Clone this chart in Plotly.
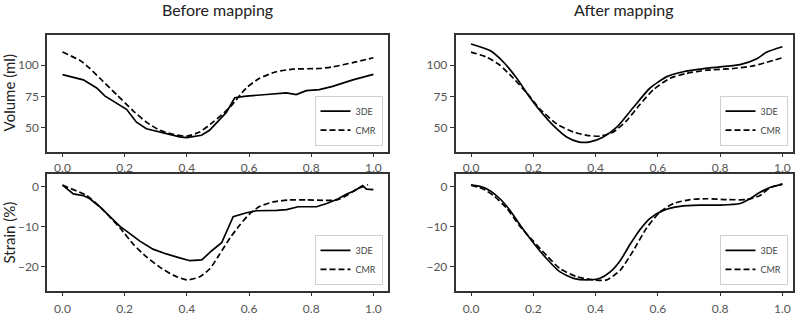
import plotly.graph_objects as go

# ---------------- data ----------------
x_tick_vals = [0.0, 0.2, 0.4, 0.6, 0.8, 1.0]
x_tick_labels = ["0.0", "0.2", "0.4", "0.6", "0.8", "1.0"]
vol_tick_vals = [50, 75, 100]
strain_tick_vals = [-20, -10, 0]

panel_titles = ["Before mapping", "After mapping"]
row_titles = ["Volume (ml)", "Strain (%)"]
series_names = ["3DE", "CMR"]

before_vol_3de_x = [0.0, 0.067, 0.11, 0.136, 0.206, 0.238, 0.27, 0.313, 0.377, 0.4, 0.447,
                    0.473, 0.527, 0.554, 0.591, 0.656, 0.72, 0.752, 0.784, 0.826, 0.869, 0.934, 1.0]
before_vol_3de_y = [92.5, 88.3, 81.8, 75.5, 64.8, 54.5, 49.2, 46.6, 42.7, 42.2, 44.0,
                    48.0, 62.3, 74.0, 75.3, 76.6, 77.9, 76.6, 79.7, 80.5, 83.1, 88.3, 92.7]

before_vol_cmr_x = [0.0, 0.056, 0.088, 0.131, 0.174, 0.227, 0.27, 0.313, 0.356, 0.4, 0.441,
                    0.484, 0.538, 0.591, 0.634, 0.688, 0.741, 0.826, 0.869, 0.934, 1.0]
before_vol_cmr_y = [110.5, 103.9, 97.4, 87.0, 76.6, 63.6, 54.5, 48.0, 44.8, 43.3, 46.6,
                    54.5, 66.2, 81.8, 89.6, 94.8, 96.9, 97.4, 98.7, 102.1, 106.0]

after_vol_3de_x = [0.0, 0.061, 0.104, 0.147, 0.179, 0.222, 0.264, 0.307, 0.345, 0.382, 0.425,
                   0.468, 0.521, 0.575, 0.629, 0.682, 0.736, 0.8, 0.864, 0.918, 0.95, 1.0]
after_vol_3de_y = [117.0, 111.7, 102.6, 89.6, 77.9, 63.6, 51.9, 42.7, 38.8, 38.8, 42.7,
                   50.5, 66.2, 81.8, 90.9, 94.8, 96.9, 98.7, 100.5, 105.2, 110.5, 114.8]

after_vol_cmr_x = [0.0, 0.05, 0.093, 0.136, 0.179, 0.222, 0.275, 0.329, 0.372, 0.414, 0.457,
                   0.5, 0.543, 0.586, 0.639, 0.693, 0.757, 0.843, 0.907, 1.0]
after_vol_cmr_y = [110.5, 106.5, 100.0, 89.6, 77.9, 64.8, 53.1, 46.6, 44.0, 43.3, 46.6,
                   55.8, 68.8, 80.5, 89.6, 93.5, 96.1, 97.4, 99.5, 106.0]

before_str_3de_x = [0.0, 0.035, 0.067, 0.088, 0.12, 0.152, 0.185, 0.206, 0.249, 0.291, 0.334,
                    0.377, 0.41, 0.448, 0.48, 0.512, 0.549, 0.592, 0.624, 0.689, 0.721, 0.758,
                    0.817, 0.85, 0.887, 0.914, 0.94, 0.965, 0.978, 1.0]
before_str_3de_y = [0.4, -1.8, -2.2, -3.0, -5.0, -7.5, -9.9, -11.1, -13.6, -15.6, -16.8,
                    -17.8, -18.5, -18.3, -16.0, -14.0, -7.5, -6.5, -6.0, -5.9, -5.7, -5.0,
                    -5.0, -4.2, -3.0, -1.8, -1.0, 0.3, -0.6, -0.7]

before_str_cmr_x = [0.0, 0.056, 0.078, 0.12, 0.185, 0.228, 0.271, 0.313, 0.356, 0.4, 0.442,
                    0.474, 0.506, 0.539, 0.571, 0.603, 0.635, 0.678, 0.731, 0.785, 0.839,
                    0.882, 0.914, 0.946, 0.983]
before_str_cmr_y = [0.4, -1.4, -2.2, -5.0, -10.3, -14.4, -17.6, -20.1, -22.1, -23.3, -22.5,
                    -20.5, -16.8, -12.8, -9.5, -6.7, -4.9, -3.8, -3.3, -3.3, -3.4,
                    -3.3, -2.2, -0.6, 0.5]

after_str_3de_x = [0.0, 0.029, 0.061, 0.093, 0.125, 0.157, 0.2, 0.243, 0.286, 0.329, 0.372,
                   0.414, 0.447, 0.479, 0.511, 0.543, 0.575, 0.618, 0.671, 0.736, 0.8,
                   0.864, 0.896, 0.928, 0.96, 1.0]
after_str_3de_y = [0.4, 0.1, -1.0, -3.0, -5.9, -9.5, -14.0, -18.0, -21.3, -22.9, -23.3,
                   -22.9, -21.3, -18.5, -14.4, -10.7, -7.9, -5.9, -4.9, -4.6, -4.6,
                   -4.2, -3.0, -1.4, -0.2, 0.65]

after_str_cmr_x = [0.0, 0.04, 0.072, 0.115, 0.157, 0.2, 0.243, 0.286, 0.34, 0.393, 0.436,
                   0.479, 0.521, 0.564, 0.607, 0.65, 0.704, 0.757, 0.821, 0.886, 0.928, 0.96, 1.0]
after_str_cmr_y = [0.4, -0.6, -2.2, -5.4, -9.9, -13.6, -17.2, -20.5, -22.5, -23.3, -23.3,
                   -20.9, -16.0, -10.3, -6.3, -4.2, -3.2, -3.0, -3.2, -3.2, -2.2, -0.2, 0.65]

# ---------------- layout constants ----------------
W, H = 799, 316
FONT = "Lato, 'Open Sans', sans-serif"
FRAME = "#333333"
TICKC = "#555555"

# pixel frames (left, right, top, bottom)
frames = {
    1: (47, 388, 36, 155),
    2: (455.5, 793, 36, 155),
    3: (47, 388, 178.3, 297.3),
    4: (455.5, 793, 178.3, 297.3),
}
xranges = {1: [-0.0498, 1.047], 2: [-0.0498, 1.034], 3: [-0.0498, 1.047], 4: [-0.0498, 1.034]}
yranges = {1: [31, 124], 2: [31, 124], 3: [-26, 3.1], 4: [-26, 3.1]}
yticks = {1: vol_tick_vals, 2: vol_tick_vals, 3: strain_tick_vals, 4: strain_tick_vals}
xstandoff = {1: 0, 2: 0, 3: 2, 4: 2}

curves = {
    1: (before_vol_3de_x, before_vol_3de_y, before_vol_cmr_x, before_vol_cmr_y, "linear"),
    2: (after_vol_3de_x, after_vol_3de_y, after_vol_cmr_x, after_vol_cmr_y, "spline"),
    3: (before_str_3de_x, before_str_3de_y, before_str_cmr_x, before_str_cmr_y, "linear"),
    4: (after_str_3de_x, after_str_3de_y, after_str_cmr_x, after_str_cmr_y, "spline"),
}

fig = go.Figure()
layout = dict(
    width=W, height=H,
    margin=dict(l=0, r=0, t=0, b=0),
    paper_bgcolor="white", plot_bgcolor="white",
    font=dict(family=FONT, color=TICKC, size=12),
    annotations=[],
)

for i in range(1, 5):
    l, r, t, b = frames[i]
    sfx = "" if i == 1 else str(i)
    xa, ya = "x" + sfx, "y" + sfx
    leg = "legend" + sfx
    x3, y3, xc, yc, shape = curves[i]
    fig.add_trace(go.Scatter(
        x=x3, y=y3, mode="lines", name=series_names[0], xaxis=xa, yaxis=ya, legend=leg,
        line=dict(color="black", width=1.7, shape=shape, smoothing=0.6 if shape == "spline" else None),
    ))
    fig.add_trace(go.Scatter(
        x=xc, y=yc, mode="lines", name=series_names[1], xaxis=xa, yaxis=ya, legend=leg,
        line=dict(color="black", width=1.7, dash="6px,3px", shape="spline", smoothing=0.6),
    ))
    common = dict(showline=True, linecolor=FRAME, linewidth=1.5, mirror=True,
                  showgrid=False, zeroline=False, ticks="outside", ticklen=4,
                  tickwidth=1, tickcolor=FRAME,
                  tickfont=dict(family=FONT, size=12, color=TICKC))
    layout["xaxis" + sfx] = dict(
        domain=[l / W, r / W], range=xranges[i], anchor=ya,
        tickvals=x_tick_vals, ticktext=x_tick_labels,
        ticklabelstandoff=xstandoff[i], **common)
    layout["yaxis" + sfx] = dict(
        domain=[1 - b / H, 1 - t / H], range=yranges[i], anchor=xa,
        tickvals=yticks[i], **common)
    layout[leg] = dict(
        x=(r - 5.5) / W, xanchor="right", y=1 - (b - 6) / H, yanchor="bottom",
        bgcolor="rgba(255,255,255,0.85)", bordercolor="#d0d0d0", borderwidth=1,
        font=dict(family=FONT, size=9, color="#444444"),
        itemwidth=30, tracegroupgap=0,
    )

for j, title in enumerate(panel_titles):
    l, r, t, b = frames[j + 1]
    layout["annotations"].append(dict(
        text=title, x=(l + r) / 2 / W, y=1 - 10 / H, xref="paper", yref="paper",
        xanchor="center", yanchor="middle", showarrow=False,
        font=dict(family=FONT, size=16, color="#222222")))

for k, title in enumerate(row_titles):
    l, r, t, b = frames[1 + 2 * k]
    layout["annotations"].append(dict(
        text=title, x=9 / W, y=1 - (t + b) / 2 / H, xref="paper", yref="paper",
        xanchor="center", yanchor="middle", textangle=-90, showarrow=False,
        font=dict(family=FONT, size=15, color="#222222")))

fig.update_layout(**layout)
fig.write_html("out.html", config={"displayModeBar": False},
               post_script="document.body.style.margin='0px';")
